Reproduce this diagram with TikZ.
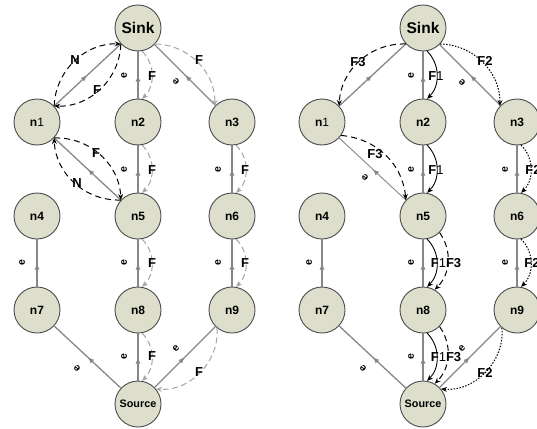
\documentclass[tikz,border=0pt]{standalone}
\usepackage{fontspec}
\setmainfont{Liberation Sans}
\usetikzlibrary{arrows.meta,decorations.markings}
\definecolor{nodefill}{RGB}{221,222,203}
\definecolor{nodeedge}{RGB}{75,75,75}
\definecolor{edgegray}{RGB}{135,135,135}
\definecolor{flowgray}{RGB}{165,165,165}
\tikzset{
  vtx/.style={circle, draw=nodeedge, fill=nodefill, line width=0.9pt,
    minimum size=46pt, inner sep=0pt, font=\bfseries\fontsize{12}{12}\selectfont},
  sinkv/.style={vtx, font=\bfseries\fontsize{15.5}{15.5}\selectfont},
  srcv/.style={vtx, font=\bfseries\fontsize{10.8}{10.8}\selectfont},
  gedge/.style={draw=edgegray, line width=1.3pt, postaction={decorate},
    decoration={markings, mark=at position 0.5 with {\arrow{Latex[length=6.5pt,width=5pt]}}}},
  tip/.style={-{Stealth[length=6pt,width=5pt]}},
  gdash/.style={tip, draw=flowgray, line width=1pt, dash pattern=on 6pt off 3.5pt},
  bdash/.style={tip, draw=black, line width=1pt, dash pattern=on 6pt off 4pt},
  bsolid/.style={tip, draw=black, line width=0.9pt},
  bdot/.style={tip, draw=black, line width=1pt, dash pattern=on 1.5pt off 1.5pt},
  elab/.style={font=\bfseries\fontsize{10.5}{10.5}\selectfont, inner sep=0pt, rotate=90},
  flab/.style={font=\bfseries\fontsize{13}{13}\selectfont, inner sep=0pt},
}
\newcommand{\nOne}{n{\mdseries 1}}
\newcommand{\fOne}{F{\mdseries 1}}
\begin{document}
\begin{tikzpicture}[x=1pt, y=-1pt]
\useasboundingbox (0,0) rectangle (537,428);
\clip (0,0) rectangle (537,428);

% ---------- left network ----------
\node[sinkv] (lsink) at (138,28) {Sink};
\node[vtx] (l1) at (37,122) {\nOne};
\node[vtx] (l2) at (138,122) {n2};
\node[vtx] (l3) at (232,122) {n3};
\node[vtx] (l4) at (37,216) {n4};
\node[vtx] (l5) at (138,216) {n5};
\node[vtx] (l6) at (232,216) {n6};
\node[vtx] (l7) at (37,310) {n7};
\node[vtx] (l8) at (138,310) {n8};
\node[vtx] (l9) at (232,310) {n9};
\node[srcv] (lsrc) at (138,404) {Source};

\draw[gedge] (l1) -- (lsink);
\draw[gedge] (l2) -- (lsink);
\draw[gedge] (l3) -- (lsink);
\draw[gedge] (l5) -- (l1);
\draw[gedge] (l5) -- (l2);
\draw[gedge] (l6) -- (l3);
\draw[gedge] (l7) -- (l4);
\draw[gedge] (l8) -- (l5);
\draw[gedge] (l9) -- (l6);
\draw[gedge] (lsrc) -- (l7);
\draw[gedge] (lsrc) -- (l8);
\draw[gedge] (lsrc) -- (l9);

\draw[bdash] (l1.43) to[bend left=45] (lsink.-137);
\draw[bdash] (lsink.-137) to[bend left=45] (l1.43);
\draw[gdash] (lsink.-80) to[bend left=45] (l2.80);
\draw[gdash] (lsink.-43) to[bend left=45] (l3.137);
\draw[bdash] (l1.-43) to[bend left=45] (l5.137);
\draw[bdash] (l5.137) to[bend left=45] (l1.-43);
\draw[gdash] (l2.-80) to[bend left=45] (l5.80);
\draw[gdash] (l3.-80) to[bend left=45] (l6.80);
\draw[gdash] (l5.-80) to[bend left=45] (l8.80);
\draw[gdash] (l6.-80) to[bend left=45] (l9.80);
\draw[gdash] (l8.-80) to[bend left=45] (lsrc.80);
\draw[gdash] (l9.-130) to[bend left=50] (lsrc.40);

\node[flab] (la1) at (75,60) {N};
\node[flab] (la2) at (97,90) {F};
\node[elab] (la3) at (124,76) {e};
\node[flab] (la4) at (152,76) {F};
\node[flab] (la5) at (199,60) {F};
\node[elab, rotate=47] (la6) at (176,82) {e};
\node[flab] (la7) at (96,153) {F};
\node[flab] (la8) at (77,183) {N};
\node[elab] (la9) at (124,170) {e};
\node[flab] (la10) at (152,170) {F};
\node[elab] (la11) at (218,170) {e};
\node[flab] (la12) at (245,170) {F};
\node[elab] (la13) at (22,263) {e};
\node[elab] (la14) at (124,263) {e};
\node[flab] (la15) at (152,263) {F};
\node[elab] (la16) at (218,263) {e};
\node[flab] (la17) at (245,263) {F};
\node[elab, rotate=45] (la18) at (77,368) {e};
\node[elab] (la19) at (124,357) {e};
\node[flab] (la20) at (152,356) {F};
\node[elab, rotate=-45] (la21) at (176,348) {e};
\node[flab] (la22) at (199,372) {F};

% ---------- right network ----------
\node[sinkv] (rsink) at (423,28) {Sink};
\node[vtx] (r1) at (322,122) {\nOne};
\node[vtx] (r2) at (423,122) {n2};
\node[vtx] (r3) at (517,122) {n3};
\node[vtx] (r4) at (322,216) {n4};
\node[vtx] (r5) at (423,216) {n5};
\node[vtx] (r6) at (517,216) {n6};
\node[vtx] (r7) at (322,310) {n7};
\node[vtx] (r8) at (423,310) {n8};
\node[vtx] (r9) at (517,310) {n9};
\node[srcv] (rsrc) at (423,404) {Source};

\draw[gedge] (r1) -- (rsink);
\draw[gedge] (r2) -- (rsink);
\draw[gedge] (r3) -- (rsink);
\draw[gedge, line width=0.9pt] (r5) -- (r1);
\draw[gedge] (r5) -- (r2);
\draw[gedge] (r6) -- (r3);
\draw[gedge] (r7) -- (r4);
\draw[gedge] (r8) -- (r5);
\draw[gedge] (r9) -- (r6);
\draw[gedge] (rsrc) -- (r7);
\draw[gedge] (rsrc) -- (r8);
\draw[gedge] (rsrc) -- (r9);

\draw[bdash] (rsink.-137) to[bend right=45] (r1.43);
\draw[bsolid] (rsink.-80) to[bend left=45] (r2.80);
\draw[bdot] (rsink.-43) to[bend left=45] (r3.137);
\draw[bdash] (r1.-35) to[bend left=40] (r5.137);
\draw[bsolid] (r2.-80) to[bend left=45] (r5.80);
\draw[bdot] (r3.-80) to[bend left=45] (r6.80);
\draw[bsolid] (r5.-80) to[bend left=45] (r8.80);
\draw[bdash] (r5.-45) to[bend left=40] (r8.60);
\draw[bdot] (r6.-80) to[bend left=45] (r9.80);
\draw[bsolid] (r8.-80) to[bend left=45] (rsrc.80);
\draw[bdash] (r8.-45) to[bend left=40] (rsrc.60);
\draw[bdot] (r9.-130) to[bend left=50] (rsrc.40);

\node[flab] (ra1) at (358,62) {F3};
\node[elab] (ra2) at (411,76) {e};
\node[flab] (ra3) at (436,76) {\fOne};
\node[flab] (ra4) at (485,61) {F2};
\node[elab, rotate=47] (ra5) at (462,83) {e};
\node[flab] (ra6) at (375,154) {F3};
\node[elab, rotate=47] (ra7) at (365,178) {e};
\node[elab] (ra8) at (411,170) {e};
\node[flab] (ra9) at (436,170) {\fOne};
\node[elab] (ra10) at (505,170) {e};
\node[flab] (ra11) at (533,170) {F2};
\node[elab] (ra12) at (309,263) {e};
\node[elab] (ra13) at (411,263) {e};
\node[flab] (ra14) at (446,263) {\fOne F3};
\node[elab] (ra15) at (505,263) {e};
\node[flab] (ra16) at (532,263) {F2};
\node[elab, rotate=45] (ra17) at (363,368) {e};
\node[elab] (ra18) at (411,357) {e};
\node[flab] (ra19) at (446,357) {\fOne F3};
\node[elab, rotate=-45] (ra20) at (462,348) {e};
\node[flab] (ra21) at (485,373) {F2};
\end{tikzpicture}
\end{document}
